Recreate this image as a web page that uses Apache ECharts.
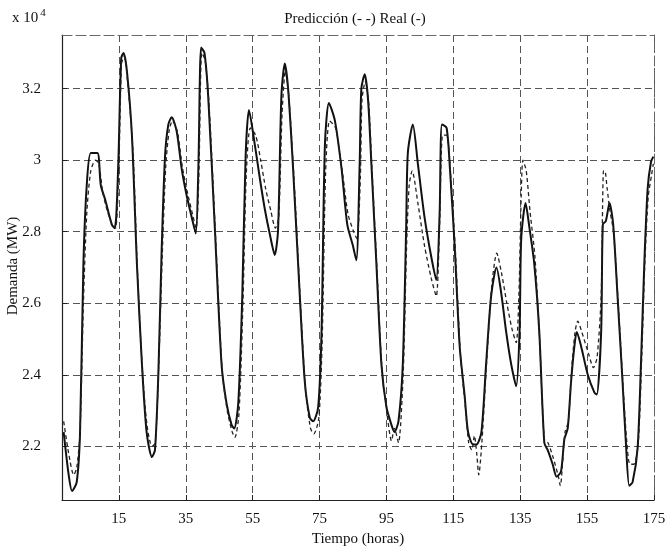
<!DOCTYPE html>
<html>
<head>
<meta charset="utf-8">
<script src="https://cdn.jsdelivr.net/npm/echarts@6/dist/echarts.min.js"></script>
<style>html,body{margin:0;padding:0;background:#fff}#c{width:667px;height:549px}</style>
</head>
<body>
<div id="c"></div>
<script>
// Hours and demand (x 10^4 MW)
var realHours = [-1.5,0,1,2.4,3.4,4.4,5.4,6.6,8.6,9.6,10.9,12.9,13.7,14.2,14.9,15.7,16.4,17.4,18.9,20.4,21.9,23.3,24.9,25.8,26.8,27.8,28.8,29.8,30.8,32.3,33.8,35.3,36.8,38.0,38.8,39.6,40.6,41.7,43.7,45.7,47.2,48.7,49.5,50.7,51.9,52.9,53.9,55.7,57.2,58.7,60.2,61.6,62.6,63.6,64.6,65.6,67.1,69.1,70.6,72.1,73.1,74.6,75.6,76.6,77.8,79.6,81.6,83.3,85.0,86.0,87.0,87.5,88.5,89.5,90.5,92.0,93.5,95.0,96.5,97.4,98.6,99.9,100.9,101.4,102.9,104.4,106.4,108.4,109.9,110.9,111.6,113.0,114.0,115.4,116.9,118.4,119.4,120.9,121.9,123.4,124.8,126.3,127.9,129.3,130.8,132.3,133.8,134.8,135.3,136.6,137.7,139.2,140.7,142.2,143.2,144.7,145.9,147.2,148.2,149.2,150.2,151.2,151.9,153.2,155.2,157.2,157.9,159.2,159.7,160.6,161.7,162.8,164.1,165.6,166.6,167.6,168.6,170.1,171.1,172.1,173.1,174.1,174.8];
var realDemand = [2.24,2.12,2.075,2.10,2.24,2.71,2.93,3.02,3.02,2.93,2.89,2.82,2.81,2.84,3.01,3.285,3.30,3.25,3.07,2.71,2.43,2.24,2.17,2.19,2.40,2.75,3.01,3.10,3.12,3.08,2.975,2.90,2.84,2.795,2.99,3.315,3.30,3.18,2.81,2.43,2.32,2.26,2.25,2.32,2.62,3.01,3.14,3.04,2.946,2.86,2.79,2.735,2.805,3.18,3.27,3.20,2.975,2.62,2.38,2.28,2.27,2.31,2.52,3.04,3.16,3.11,2.975,2.82,2.76,2.72,2.99,3.20,3.24,3.17,2.99,2.71,2.43,2.31,2.26,2.24,2.27,2.43,2.81,3.02,3.10,2.99,2.84,2.73,2.665,2.85,3.10,3.09,2.975,2.76,2.48,2.34,2.24,2.205,2.205,2.24,2.43,2.62,2.70,2.63,2.52,2.43,2.368,2.52,2.78,2.88,2.815,2.71,2.52,2.21,2.19,2.15,2.115,2.13,2.22,2.25,2.38,2.48,2.52,2.48,2.40,2.35,2.345,2.52,2.82,2.83,2.88,2.82,2.62,2.38,2.21,2.09,2.10,2.195,2.43,2.71,2.92,2.995,3.01];

var predHours = [-1.5,0,1.5,2.4,3.4,4.4,5.4,6.6,8.0,9.0,10.2,11.5,13.0,14.0,14.9,15.8,16.6,17.6,19.2,20.6,22.0,23.4,24.9,25.9,26.9,28.0,29.0,30.0,31.0,32.5,34.0,35.5,37.0,38.1,38.9,39.8,40.8,42.0,43.9,45.9,47.4,48.9,49.7,50.9,52.1,53.1,54.3,55.9,57.4,58.9,60.4,61.8,62.8,63.8,64.8,65.8,67.3,69.3,70.8,72.3,73.3,74.8,75.8,76.8,78.0,79.8,81.8,83.5,85.2,86.2,87.2,87.7,88.7,89.7,90.7,92.2,93.7,95.2,96.5,97.4,98.6,100.0,101.0,101.8,102.7,104.4,106.4,108.4,109.9,110.9,111.8,113.0,114.2,115.6,117.1,118.6,119.6,120.5,121.3,122.0,122.6,123.6,125.0,126.5,128.0,129.5,131.0,132.5,133.8,134.6,135.3,135.8,136.8,137.9,139.4,140.8,142.2,143.3,144.8,146.3,147.0,147.8,148.4,149.4,150.4,151.4,152.2,153.4,155.4,156.9,158.0,159.2,159.9,160.3,161.0,161.8,162.9,164.3,165.8,166.8,167.8,169.0,170.3,171.3,172.3,173.3,174.3,174.8];
var predDemand = [2.27,2.18,2.12,2.14,2.24,2.60,2.85,2.97,3.00,2.99,2.91,2.86,2.82,2.81,2.95,3.27,3.29,3.22,3.03,2.68,2.42,2.26,2.20,2.21,2.42,2.74,2.98,3.08,3.11,3.08,2.98,2.91,2.85,2.81,2.95,3.30,3.28,3.15,2.79,2.41,2.30,2.24,2.225,2.29,2.60,2.96,3.09,3.07,3.00,2.92,2.86,2.81,2.84,3.13,3.25,3.18,2.96,2.60,2.36,2.25,2.235,2.28,2.50,2.96,3.11,3.09,2.97,2.85,2.80,2.78,2.95,3.17,3.22,3.16,2.97,2.69,2.41,2.29,2.215,2.25,2.21,2.40,2.75,2.93,2.97,2.88,2.76,2.67,2.62,2.82,3.07,3.07,2.96,2.75,2.46,2.31,2.21,2.19,2.23,2.18,2.12,2.22,2.44,2.65,2.74,2.68,2.60,2.53,2.49,2.62,2.90,3.00,2.97,2.86,2.73,2.50,2.22,2.21,2.17,2.12,2.09,2.17,2.24,2.27,2.42,2.52,2.55,2.52,2.46,2.42,2.45,2.62,2.97,2.97,2.92,2.86,2.80,2.60,2.36,2.22,2.15,2.15,2.21,2.44,2.72,2.90,2.96,2.99];

var xTicks = [15,35,55,75,95,115,135,155,175];
var yTicks = [2.2,2.4,2.6,2.8,3.0,3.2];

var FONT = 'Liberation Serif';
var chart = echarts.init(document.getElementById('c'), null, {renderer: 'canvas'});

function pairs(xs, ys) { return xs.map(function (x, i) { return [x, ys[i]]; }); }

var gridLineStyle = {color: '#555', width: 1, type: [7, 4]};

chart.setOption({
  animation: false,
  backgroundColor: '#ffffff',
  title: {
    text: 'Predicción (- -) Real (-)',
    left: 350, top: 7, textAlign: 'center',
    textStyle: {fontFamily: FONT, fontSize: 15, fontWeight: 'normal', color: '#111'}
  },
  grid: {left: 62, right: 13, top: 35, bottom: 49, containLabel: false, outerBoundsMode: 'none'},
  xAxis: [{
    type: 'value', min: -2, max: 175, position: 'bottom',
    name: 'Tiempo (horas)', nameLocation: 'middle', nameGap: 30,
    nameTextStyle: {fontFamily: FONT, fontSize: 15, color: '#111'},
    axisLine: {show: true, onZero: false, lineStyle: {color: '#222', width: 1.2}},
    axisTick: {show: true, inside: true, length: 5, customValues: xTicks, lineStyle: {color: '#222'}},
    axisLabel: {customValues: xTicks, fontFamily: FONT, fontSize: 15, color: '#111', margin: 12},
    splitLine: {show: true, lineStyle: gridLineStyle}
  }, {
    type: 'value', min: -2, max: 175, position: 'top',
    axisLine: {show: true, onZero: false, lineStyle: {color: '#666', width: 1, type: [10, 4]}},
    axisTick: {show: false}, axisLabel: {show: false}, splitLine: {show: false}
  }],
  yAxis: [{
    type: 'value', min: 2.05, max: 3.35, position: 'left',
    axisLine: {show: true, onZero: false, lineStyle: {color: '#222', width: 1.2}},
    axisTick: {show: true, inside: true, length: 5, customValues: yTicks, lineStyle: {color: '#222'}},
    axisLabel: {customValues: yTicks, fontFamily: FONT, fontSize: 15, color: '#111', margin: 21,
      formatter: function (v) { return String(Math.round(v * 10) / 10); }},
    splitLine: {show: true, lineStyle: gridLineStyle}
  }, {
    type: 'value', min: 2.05, max: 3.35, position: 'right',
    axisLine: {show: true, onZero: false, lineStyle: {color: '#666', width: 1, type: [10, 4]}},
    axisTick: {show: false}, axisLabel: {show: false}, splitLine: {show: false}
  }],
  graphic: [{
    type: 'text', left: 12, top: 8,
    style: {
      text: 'x 10{s|4}',
      font: '15px "Liberation Serif"', fill: '#111',
      rich: {s: {fontFamily: FONT, fontSize: 11, verticalAlign: 'top', padding: [0, 0, 9, 2], fill: '#111'}}
    }
  }, {
    type: 'text', x: 13, y: 266, rotation: Math.PI / 2,
    style: {
      text: 'Demanda (MW)', font: '15px "Liberation Serif"', fill: '#111',
      align: 'center', verticalAlign: 'middle'
    }
  }],
  series: [{
    name: 'Real', type: 'line', xAxisIndex: 0, yAxisIndex: 0,
    data: pairs(realHours, realDemand),
    showSymbol: false, smooth: 0.25,
    lineStyle: {color: '#111', width: 2}
  }, {
    name: 'Predicción', type: 'line', xAxisIndex: 0, yAxisIndex: 0,
    data: pairs(predHours, predDemand),
    showSymbol: false, smooth: 0.25,
    lineStyle: {color: '#222', width: 1.3, type: [4, 3]}
  }]
});
</script>
</body>
</html>
